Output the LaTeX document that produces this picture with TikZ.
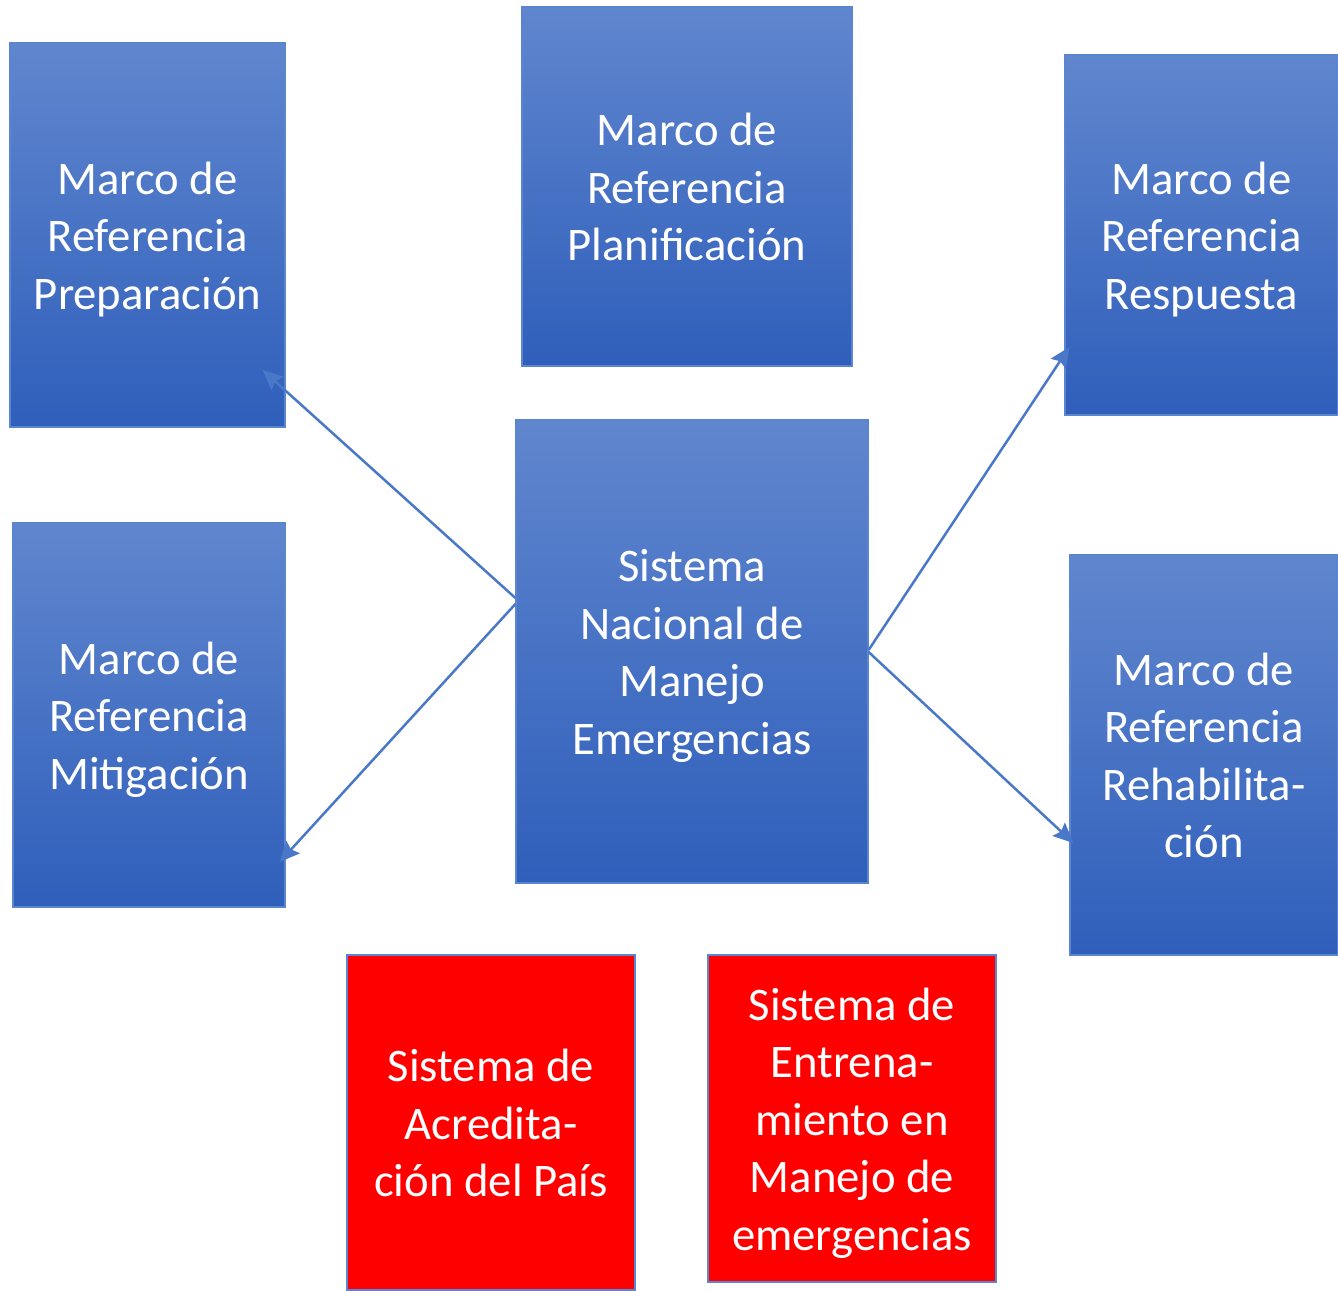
\documentclass[tikz,border=0pt]{standalone}
\usepackage{fontspec}
\setmainfont{Carlito}
\usepackage{tikz}
\usetikzlibrary{arrows.meta}
\definecolor{boxtop}{HTML}{6086CE}
\definecolor{boxbot}{HTML}{2F5FBB}
\definecolor{edge}{HTML}{4A78C8}
\definecolor{boxline}{HTML}{5A85CF}
\definecolor{alarm}{HTML}{FF0000}
\newcommand{\boxtext}[1]{\raisebox{0pt}[\dimexpr\height+10pt\relax][\depth]{\begin{tabular}{@{}c@{}}#1\end{tabular}}}

\begin{document}
\begin{tikzpicture}[x=1pt,y=-1pt,line width=2.5pt,-{Stealth[length=20pt,width=18pt,inset=3pt]}]
                \tikzstyle{frame}=[rectangle,draw=boxline,line width=1.2pt,inner sep=0pt,text=white,font=\fontsize{46.7}{57.5}\selectfont]
                \tikzstyle{marco}=[frame,top color=boxtop,bottom color=boxbot]
                \tikzstyle{sistema}=[frame,fill=alarm]
                \useasboundingbox (0,0) rectangle (1338,1290);

                \foreach \name/\x/\y/\w/\h/\txt in {prep/147.5/235/275/384/{Marco de\\Referencia\\Preparación},
                                                  plan/687/186.5/330/359/{Marco de\\Referencia\\Planificación},
                                                  resp/1201.5/235/273/360/{Marco de\\Referencia\\Respuesta},
                                                  miti/149/715/272/384/{Marco de\\Referencia\\Mitigación},
                                                  rehab/1204/755/268/400/{Marco de\\Referencia\\Rehabilita-\\ción},
                                                  cen/692/651.5/352/463/{Sistema\\Nacional de\\Manejo\\Emergencias}}
                        \node[marco,minimum width=\w pt,minimum height=\h pt] (V-\name) at (\x,\y) {\boxtext{\txt}};

                \node[sistema,minimum width=288pt,minimum height=335pt] (V-acred) at (491,1122.5) {\boxtext{Sistema de\\Acredita-\\ción del País}};
                \node[sistema,minimum width=288pt,minimum height=327pt] (V-entr) at (852,1118.5) {\boxtext{Sistema de\\Entrena-\\miento en\\Manejo de\\emergencias}};

                    \draw[edge] ([yshift=53.5pt]V-cen.west) -- ([shift={(-23,135)}]V-prep.east);
                    \draw[edge] ([yshift=47.5pt]V-cen.west) -- ([shift={(-6,147)}]V-miti.east);
                    \draw[edge] ([yshift=1.5pt]V-cen.east) -- ([shift={(5,112)}]V-resp.west);
                    \draw[edge] ([yshift=-0.5pt]V-cen.east) -- ([shift={(4,88)}]V-rehab.west);
            \end{tikzpicture}
\end{document}
